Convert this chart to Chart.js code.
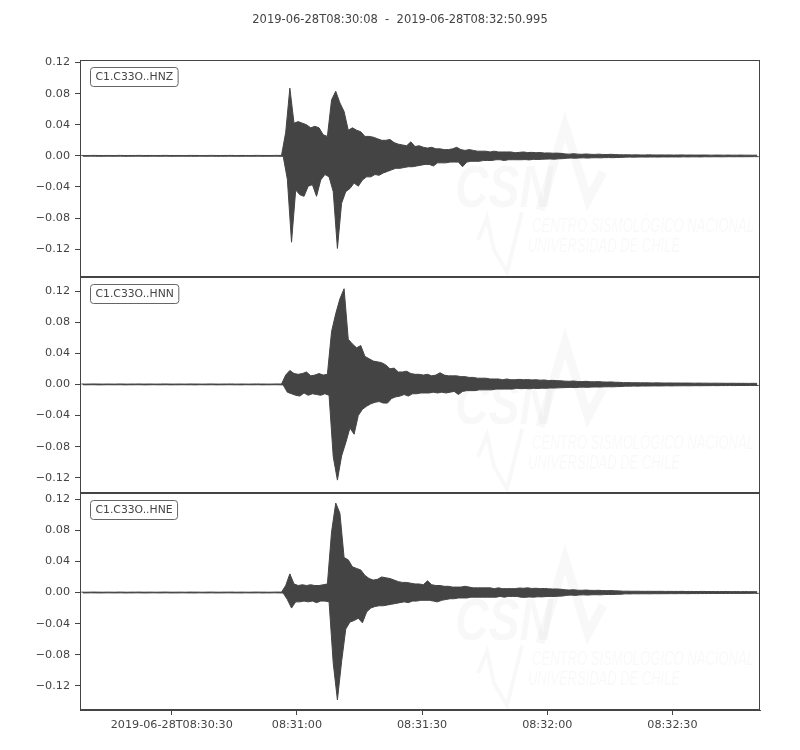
<!DOCTYPE html>
<html>
<head>
<meta charset="utf-8">
<script src="https://cdn.jsdelivr.net/npm/chart.js@4"></script>
<style>
  html, body { margin: 0; padding: 0; background: #ffffff; }
  canvas { display: block; }
</style>
</head>
<body>
<canvas id="c" width="800" height="750"></canvas>
<script>
// ---------------- DATA (seconds after 2019-06-28T08:30:08, 1 s bins: max / min per bin) ----------------
const titleText = '2019-06-28T08:30:08  -  2019-06-28T08:32:50.995';
const traceNames = ['C1.C33O..HNZ', 'C1.C33O..HNN', 'C1.C33O..HNE'];
const xTickSeconds = [22, 52, 82, 112, 142];
const xTickLabels = ['2019-06-28T08:30:30', '08:31:00', '08:31:30', '08:32:00', '08:32:30'];
const yTickValues = [-0.12, -0.08, -0.04, 0.0, 0.04, 0.08, 0.12];
const yTickLabels = ['\u22120.12', '\u22120.08', '\u22120.04', '0.00', '0.04', '0.08', '0.12'];
const xStart = 0, xEnd = 162.995;

// quiet pre-event noise, bins 0..48 (same flat line on all three components)
const preEventMax = [
  0.0005,0.0004,0.0005,0.0006,0.0005,0.0004,0.0005,0.0005,0.0004,0.0006,
  0.0005,0.0004,0.0005,0.0005,0.0006,0.0004,0.0005,0.0005,0.0004,0.0005,
  0.0006,0.0005,0.0004,0.0005,0.0005,0.0004,0.0006,0.0005,0.0005,0.0004,
  0.0005,0.0006,0.0005,0.0004,0.0005,0.0005,0.0006,0.0004,0.0005,0.0005,
  0.0004,0.0005,0.0006,0.0005,0.0005,0.0004,0.0005,0.0006,0.0005];
const preEventMin = [
  -0.0005,-0.0005,-0.0004,-0.0005,-0.0006,-0.0005,-0.0004,-0.0005,-0.0005,-0.0004,
  -0.0006,-0.0005,-0.0005,-0.0004,-0.0005,-0.0006,-0.0005,-0.0004,-0.0005,-0.0005,
  -0.0004,-0.0006,-0.0005,-0.0005,-0.0004,-0.0005,-0.0005,-0.0006,-0.0004,-0.0005,
  -0.0005,-0.0004,-0.0006,-0.0005,-0.0005,-0.0004,-0.0005,-0.0005,-0.0006,-0.0004,
  -0.0005,-0.0005,-0.0004,-0.0006,-0.0005,-0.0005,-0.0004,-0.0005,-0.0006];

// HNZ, bins 49..104
const zEventMax = [
  0.030,0.087,0.042,0.044,0.042,0.040,0.036,0.038,0.036,0.027,
  0.025,0.072,0.083,0.068,0.057,0.033,0.036,0.033,0.031,0.025,
  0.025,0.024,0.022,0.020,0.020,0.021,0.017,0.015,0.014,0.013,
  0.018,0.012,0.013,0.011,0.010,0.011,0.009,0.009,0.008,0.008,
  0.009,0.011,0.008,0.007,0.008,0.007,0.006,0.006,0.006,0.005,
  0.006,0.005,0.005,0.005,0.005,0.004];
const zEventMin = [
  -0.030,-0.111,-0.044,-0.050,-0.052,-0.039,-0.037,-0.052,-0.031,-0.024,
  -0.027,-0.046,-0.119,-0.061,-0.046,-0.042,-0.035,-0.039,-0.031,-0.027,
  -0.027,-0.024,-0.025,-0.022,-0.020,-0.018,-0.016,-0.016,-0.015,-0.014,
  -0.014,-0.013,-0.012,-0.011,-0.011,-0.013,-0.009,-0.009,-0.009,-0.008,
  -0.008,-0.008,-0.014,-0.008,-0.007,-0.007,-0.007,-0.006,-0.006,-0.006,
  -0.005,-0.005,-0.006,-0.005,-0.005,-0.005];
// HNZ, bins 105..162
const zTailMax = [
  0.0045,0.005,0.0042,0.0045,0.004,0.0043,0.0036,0.0038,0.0034,0.0035,0.0032,
  0.0025,0.0022,0.0028,0.0022,0.002,0.0024,0.002,0.0018,0.0022,0.0018,0.0017,0.002,0.0016,0.0015,
  0.0013,0.0014,0.0012,0.0013,0.0012,0.0011,0.0013,0.0012,0.0011,0.0012,
  0.0011,0.0012,0.001,0.0011,0.0012,0.001,0.0011,0.001,0.001,0.0011,
  0.001,0.0009,0.001,0.001,0.0009,0.001,0.0009,0.0009,0.001,0.0009,
  0.0009,0.0008,0.0009];
const zTailMin = [
  -0.005,-0.0048,-0.0052,-0.0045,-0.0047,-0.0044,-0.0042,-0.004,-0.0043,-0.0038,-0.0036,
  -0.003,-0.0028,-0.0031,-0.0027,-0.0026,-0.0029,-0.0025,-0.0024,-0.0026,-0.0023,-0.0022,-0.0024,-0.0021,-0.002,
  -0.0017,-0.0016,-0.0017,-0.0016,-0.0015,-0.0016,-0.0015,-0.0015,-0.0016,-0.0014,
  -0.0015,-0.0014,-0.0014,-0.0015,-0.0013,-0.0014,-0.0013,-0.0013,-0.0014,-0.0012,
  -0.0013,-0.0012,-0.0012,-0.0013,-0.0012,-0.0011,-0.0012,-0.0011,-0.0012,-0.0011,
  -0.0011,-0.001,-0.0011];

// HNN, bins 49..104
const nEventMax = [
  0.012,0.018,0.014,0.013,0.014,0.016,0.011,0.012,0.014,0.012,
  0.013,0.068,0.091,0.110,0.123,0.058,0.052,0.047,0.050,0.036,
  0.033,0.030,0.029,0.028,0.025,0.020,0.021,0.016,0.016,0.017,
  0.014,0.013,0.013,0.012,0.013,0.011,0.012,0.015,0.012,0.011,
  0.011,0.011,0.010,0.010,0.009,0.009,0.008,0.008,0.008,0.007,
  0.007,0.007,0.006,0.007,0.006,0.006];
const nEventMin = [
  -0.010,-0.012,-0.014,-0.015,-0.011,-0.014,-0.012,-0.013,-0.014,-0.012,
  -0.014,-0.093,-0.123,-0.092,-0.075,-0.056,-0.064,-0.040,-0.032,-0.028,
  -0.025,-0.023,-0.022,-0.024,-0.024,-0.018,-0.016,-0.015,-0.013,-0.015,
  -0.012,-0.012,-0.011,-0.011,-0.011,-0.010,-0.011,-0.010,-0.011,-0.010,
  -0.009,-0.013,-0.009,-0.008,-0.008,-0.008,-0.007,-0.007,-0.007,-0.007,
  -0.006,-0.006,-0.006,-0.006,-0.006,-0.005];
// HNN, bins 105..162
const nTailMax = [
  0.0065,0.006,0.0062,0.0058,0.006,0.0055,0.0057,0.005,0.0052,0.0048,0.0046,
  0.0042,0.004,0.0044,0.0038,0.0036,0.004,0.0035,0.0034,0.0036,0.0032,0.003,0.0032,0.0028,0.0027,
  0.0022,0.0024,0.0021,0.0022,0.002,0.0021,0.002,0.0019,0.002,0.0019,
  0.0018,0.0019,0.0018,0.0018,0.0017,0.0018,0.0017,0.0016,0.0017,0.0016,
  0.0016,0.0015,0.0016,0.0015,0.0015,0.0014,0.0015,0.0014,0.0014,0.0014,
  0.0013,0.0014,0.0013];
const nTailMin = [
  -0.0055,-0.0052,-0.0056,-0.005,-0.0053,-0.0048,-0.005,-0.0046,-0.0047,-0.0044,-0.0042,
  -0.004,-0.0038,-0.0041,-0.0036,-0.0035,-0.0038,-0.0034,-0.0033,-0.0034,-0.0031,-0.003,-0.0031,-0.0028,-0.0027,
  -0.0022,-0.0023,-0.0021,-0.0022,-0.002,-0.0021,-0.002,-0.0019,-0.002,-0.0019,
  -0.0018,-0.0019,-0.0018,-0.0018,-0.0017,-0.0018,-0.0017,-0.0016,-0.0017,-0.0016,
  -0.0016,-0.0015,-0.0016,-0.0015,-0.0015,-0.0014,-0.0015,-0.0014,-0.0014,-0.0014,
  -0.0013,-0.0014,-0.0013];

// HNE, bins 49..104
const eEventMax = [
  0.009,0.024,0.011,0.009,0.010,0.009,0.010,0.009,0.009,0.010,
  0.011,0.078,0.115,0.102,0.045,0.042,0.033,0.031,0.029,0.022,
  0.018,0.016,0.017,0.020,0.019,0.018,0.016,0.014,0.013,0.013,
  0.012,0.011,0.011,0.010,0.015,0.010,0.009,0.009,0.008,0.008,
  0.007,0.007,0.007,0.008,0.007,0.006,0.006,0.006,0.006,0.006,
  0.005,0.006,0.005,0.005,0.005,0.005];
const eEventMin = [
  -0.009,-0.020,-0.012,-0.012,-0.011,-0.012,-0.011,-0.013,-0.011,-0.011,
  -0.012,-0.091,-0.138,-0.089,-0.047,-0.038,-0.036,-0.033,-0.039,-0.025,
  -0.020,-0.018,-0.017,-0.017,-0.016,-0.015,-0.014,-0.013,-0.012,-0.013,
  -0.011,-0.011,-0.010,-0.010,-0.010,-0.011,-0.012,-0.010,-0.009,-0.008,
  -0.008,-0.007,-0.007,-0.007,-0.006,-0.006,-0.006,-0.006,-0.006,-0.006,
  -0.006,-0.005,-0.006,-0.005,-0.005,-0.005];
// HNE, bins 105..162
const eTailMax = [
  0.0058,0.0055,0.006,0.0052,0.0055,0.005,0.0052,0.0048,0.0045,0.0046,0.0042,
  0.0035,0.0032,0.0036,0.003,0.0029,0.0032,0.0028,0.0027,0.0029,0.0025,0.0024,0.0025,0.0022,0.0021,
  0.0017,0.0018,0.0016,0.0017,0.0016,0.0015,0.0016,0.0015,0.0015,0.0016,
  0.0014,0.0015,0.0014,0.0014,0.0015,0.0013,0.0014,0.0013,0.0013,0.0014,
  0.0012,0.0013,0.0012,0.0012,0.0013,0.0012,0.0011,0.0012,0.0011,0.0012,
  0.0011,0.0011,0.001];
const eTailMin = [
  -0.006,-0.0062,-0.0057,-0.006,-0.0055,-0.0056,-0.0052,-0.005,-0.0051,-0.0047,-0.0045,
  -0.0036,-0.0033,-0.0037,-0.0031,-0.003,-0.0033,-0.0029,-0.0028,-0.003,-0.0026,-0.0025,-0.0026,-0.0023,-0.0022,
  -0.0017,-0.0018,-0.0016,-0.0017,-0.0016,-0.0016,-0.0017,-0.0015,-0.0016,-0.0015,
  -0.0015,-0.0014,-0.0015,-0.0014,-0.0014,-0.0015,-0.0013,-0.0014,-0.0013,-0.0013,
  -0.0013,-0.0012,-0.0013,-0.0012,-0.0012,-0.0012,-0.0011,-0.0012,-0.0011,-0.0011,
  -0.0011,-0.001,-0.0011];

// y limits per panel
const yLimits = { yZ: [-0.1553, 0.1232], yN: [-0.1400, 0.1385], yE: [-0.1510, 0.1275] };

// ---------------- BUILD ----------------
const zMax = preEventMax.concat(zEventMax, zTailMax), zMin = preEventMin.concat(zEventMin, zTailMin);
const nMax = preEventMax.concat(nEventMax, nTailMax), nMin = preEventMin.concat(nEventMin, nTailMin);
const eMax = preEventMax.concat(eEventMax, eTailMax), eMin = preEventMin.concat(eEventMin, eTailMin);

// each 1-second bin: its peak value at +0.3 s, its trough at +0.7 s (upper / lower edge of the dense trace)
function edge(arr, offset) {
  return arr.map((v, i) => ({ x: i + offset, y: v }));
}

const INK = '#444444';
const FONT = '"DejaVu Sans", sans-serif';
const TICK_FONT = { family: FONT, size: 11.2 };

function yScale(id) {
  return {
    type: 'linear', position: 'left', stack: 'traces', stackWeight: 1,
    min: yLimits[id][0], max: yLimits[id][1],
    afterBuildTicks: s => { s.ticks = yTickValues.map(v => ({ value: v })); },
    afterFit: s => { s.width = 80; },
    ticks: { autoSkip: false, color: INK, font: TICK_FONT, padding: 5,
             callback: (v, i) => yTickLabels[i] },
    grid: { drawOnChartArea: false, drawTicks: true, tickLength: 5, tickColor: INK, tickWidth: 1 },
    border: { color: INK, width: 1 }
  };
}

const panelOrder = ['yZ', 'yN', 'yE'];

const decorPlugin = {
  id: 'decor',
  beforeDatasetsDraw(chart) {
    const ctx = chart.ctx;
    ctx.save();
    panelOrder.forEach(id => {
      const s = chart.scales[id];
      const pt = s.top;
      ctx.fillStyle = 'rgba(0,0,0,0.028)';
      ctx.strokeStyle = 'rgba(0,0,0,0.028)';
      ctx.font = 'italic bold 60px "Liberation Sans", sans-serif';
      ctx.textBaseline = 'alphabetic';
      ctx.textAlign = 'left';
      ctx.fillText('CSN', 455, pt + 147, 98);
      ctx.lineWidth = 9;
      ctx.lineJoin = 'miter';
      ctx.beginPath();
      ctx.moveTo(540, pt + 150); ctx.lineTo(565, pt + 66); ctx.lineTo(588, pt + 140); ctx.lineTo(603, pt + 112);
      ctx.stroke();
      ctx.lineWidth = 4;
      ctx.beginPath();
      ctx.moveTo(478, pt + 180); ctx.lineTo(487, pt + 158); ctx.lineTo(494, pt + 190); ctx.lineTo(507, pt + 212); ctx.lineTo(522, pt + 152);
      ctx.stroke();
      ctx.font = 'italic 20px "Liberation Sans", sans-serif';
      ctx.fillText('CENTRO SISMOLÓGICO NACIONAL', 532, pt + 172, 222);
      ctx.fillText('UNIVERSIDAD DE CHILE', 528, pt + 192, 152);
    });
    ctx.restore();
  },
  afterDraw(chart) {
    const ctx = chart.ctx;
    const ca = chart.chartArea;
    ctx.save();
    ctx.strokeStyle = INK;
    ctx.lineWidth = 1;
    panelOrder.forEach((id, k) => {
      const s = chart.scales[id];
      const l = Math.round(ca.left) + 0.5, r = Math.round(ca.right) - 0.5;
      const t = Math.round(s.top) + 0.5, b = Math.round(s.bottom) - 0.5;
      ctx.strokeRect(l, t, r - l, b - t);
      ctx.font = '10.8px ' + FONT;
      const tw = ctx.measureText(traceNames[k]).width;
      const bx = Math.round(ca.left) + 10.5, by = Math.round(s.top) + 7.5, bw = tw + 10, bh = 19;
      ctx.beginPath();
      ctx.roundRect(bx, by, bw, bh, 3);
      ctx.fillStyle = '#ffffff';
      ctx.fill();
      ctx.strokeStyle = '#666666';
      ctx.stroke();
      ctx.fillStyle = INK;
      ctx.textAlign = 'left';
      ctx.textBaseline = 'middle';
      ctx.fillText(traceNames[k], bx + 5, by + bh / 2 + 0.5);
      ctx.strokeStyle = INK;
    });
    ctx.font = '11.5px ' + FONT;
    ctx.fillStyle = INK;
    ctx.textAlign = 'center';
    ctx.textBaseline = 'middle';
    ctx.fillText(titleText, 400, 20);
    ctx.restore();
  }
};

const traces = [
  { id: 'yZ', max: zMax, min: zMin },
  { id: 'yN', max: nMax, min: nMin },
  { id: 'yE', max: eMax, min: eMin }
];
const datasets = [];
traces.forEach(tr => {
  datasets.push({ data: edge(tr.max, 0.3), yAxisID: tr.id, fill: false });
  datasets.push({ data: edge(tr.min, 0.7), yAxisID: tr.id, fill: '-1' });
});
datasets.forEach(d => Object.assign(d, {
  borderColor: INK, backgroundColor: INK, borderWidth: 1, pointRadius: 0, tension: 0
}));

new Chart(document.getElementById('c'), {
  type: 'line',
  data: { datasets },
  options: {
    responsive: false,
    animation: false,
    devicePixelRatio: 1,
    events: [],
    layout: { padding: { top: 60, left: 0, right: 40, bottom: 0 } },
    plugins: { legend: { display: false }, tooltip: { enabled: false }, title: { display: false },
               filler: { propagate: false } },
    scales: {
      x: {
        type: 'linear', position: 'bottom', min: xStart, max: xEnd,
        afterBuildTicks: s => { s.ticks = xTickSeconds.map(v => ({ value: v })); },
        afterFit: s => { s.height = 40; },
        ticks: { autoSkip: false, maxRotation: 0, color: INK, font: TICK_FONT, padding: 3,
                 callback: (v, i) => xTickLabels[i] },
        grid: { drawOnChartArea: false, drawTicks: true, tickLength: 5, tickColor: INK },
        border: { color: INK, width: 1 }
      },
      yE: yScale('yE'),
      yN: yScale('yN'),
      yZ: yScale('yZ')
    }
  },
  plugins: [decorPlugin]
});
</script>
</body>
</html>
